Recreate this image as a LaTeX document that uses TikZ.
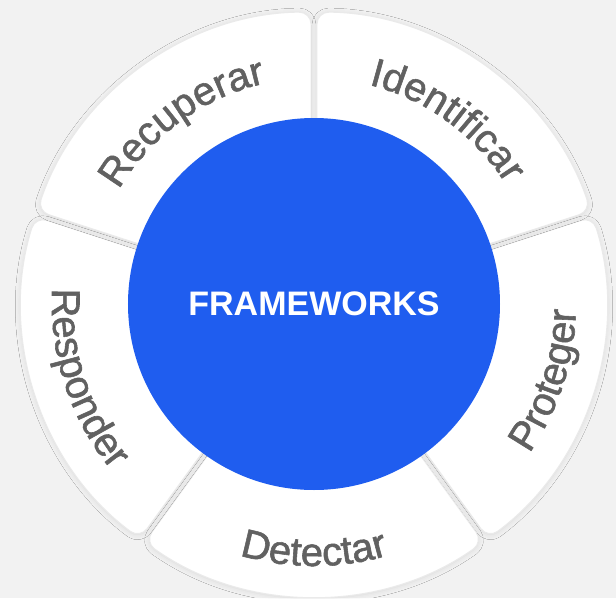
\documentclass[tikz,border=0pt]{standalone}
\usepackage{fontspec}
\setmainfont{Liberation Sans}
\newfontfamily\labelfamily{Liberation Sans}[FakeBold=1.4]
\usetikzlibrary{decorations.text,shadows.blur}
\definecolor{corecolor}{HTML}{1F5DEF}
\definecolor{labelcolor}{HTML}{616161}
\definecolor{ringedge}{HTML}{EAEAEA}
\definecolor{backcolor}{HTML}{F2F2F2}
\tikzset{ringpiece/.style={fill=white,draw=ringedge,line width=1pt,rounded corners=12pt,
		blur shadow={shadow xshift=0pt,shadow yshift=-1pt,shadow blur radius=5pt,shadow opacity=10}}}
\tikzset{corenode/.style={circle,fill=corecolor,minimum size=372pt,inner sep=0pt,text=white,
		font=\fontsize{34}{40}\selectfont\bfseries}}
\newcommand{\labelfont}{\labelfamily\fontsize{40}{48}\selectfont\color{labelcolor}}
\newcommand{\ringsector}[2]{%
	\path[ringpiece] ({#1+asin(3/292)}:292) arc[start angle={#1+asin(3/292)},end angle={#2-asin(3/292)},radius=292]
		-- ({#2-asin(3/150)}:150) arc[start angle={#2-asin(3/150)},end angle={#1+asin(3/150)},radius=150] -- cycle;}
\newcommand{\ringlabel}[4]{%
	\path[decorate,decoration={text along path,text align=center,text={|\labelfont|#4}}]
		(#1:#3) arc[start angle=#1,end angle=#2,radius=#3];}

\begin{document}
\begin{tikzpicture}[x=1pt,y=1pt]
		\fill[backcolor] (-314,-294) rectangle (302,304);
		\useasboundingbox (-314,-294) rectangle (302,304);
		%
		\ringsector{-54}{18}
		\ringsector{18}{90}
		\ringsector{-126}{-54}
		\ringsector{162}{234}
		\ringsector{90}{162}
		%
		\ringlabel{90}{18}{226}{Identificar}
		\ringlabel{162}{90}{226}{Recuperar}
		\ringlabel{-54}{18}{262}{Proteger}
		\ringlabel{-126}{-54}{262}{Detectar}
		\ringlabel{162}{234}{262}{Responder}
		%
		\node[corenode] (core) at (0,0) {FRAMEWORKS};
	\end{tikzpicture}
\end{document}
